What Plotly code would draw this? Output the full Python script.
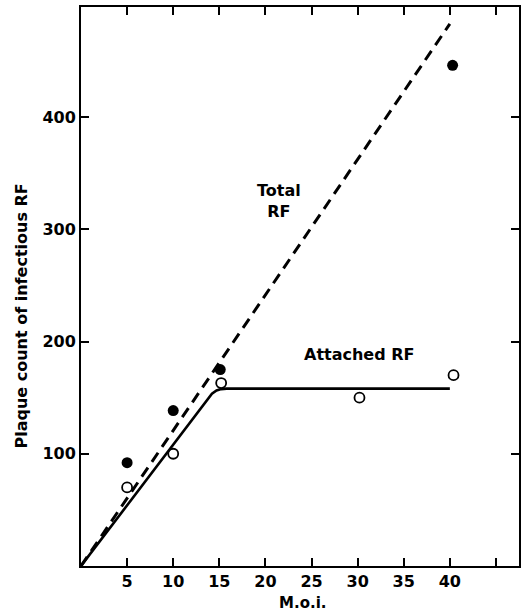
import plotly.graph_objects as go

# Data
moi_total = [5, 10, 15.1, 40.3]
count_total = [92, 138.5, 175, 446]
moi_attached = [5, 10, 15.2, 30.2, 40.4]
count_attached = [70, 100, 163, 150, 170]

# Fitted lines
total_line_x = [0, 40]
total_line_y = [0, 483]
attached_line_x = [0, 13.7, 14.2, 14.7, 15.2, 15.8, 40]
attached_line_y = [0, 149, 153.5, 156.3, 157.6, 158, 158]

xtick_vals = [5, 10, 15, 20, 25, 30, 35, 40, 45]
xtick_text = ["5", "10", "15", "20", "25", "30", "35", "40", ""]
ytick_vals = [100, 200, 300, 400]
ytick_text = ["100", "200", "300", "400"]

FONT = "DejaVu Sans"

fig = go.Figure()
fig.add_trace(go.Scatter(x=total_line_x, y=total_line_y, mode="lines",
                         line=dict(color="black", width=3, dash="11px,7px"),
                         showlegend=False, hoverinfo="skip"))
fig.add_trace(go.Scatter(x=attached_line_x, y=attached_line_y, mode="lines",
                         line=dict(color="black", width=2.6),
                         showlegend=False, hoverinfo="skip"))
fig.add_trace(go.Scatter(x=moi_total, y=count_total, mode="markers",
                         marker=dict(symbol="circle", size=11, color="black"),
                         showlegend=False))
fig.add_trace(go.Scatter(x=moi_attached, y=count_attached, mode="markers",
                         marker=dict(symbol="circle-open", size=10, color="black",
                                     line=dict(width=1.8)),
                         showlegend=False))

fig.add_annotation(x=21.5, y=325, text="<b>Total<br>RF</b>", showarrow=False,
                   font=dict(family=FONT, size=16, color="black"))
fig.add_annotation(x=30.1, y=188, text="<b>Attached RF</b>", showarrow=False,
                   font=dict(family=FONT, size=16, color="black"))

axis_common = dict(showline=True, linecolor="black", linewidth=2, mirror="ticks",
                   ticks="inside", ticklen=8, tickwidth=2, tickcolor="black",
                   showgrid=False, zeroline=False,
                   tickfont=dict(family=FONT, size=16, color="black"))

fig.update_layout(
    width=525, height=614,
    margin=dict(l=81, r=4, t=7, b=48),
    plot_bgcolor="white", paper_bgcolor="white",
    xaxis=dict(range=[0, 47.5], tickvals=xtick_vals,
               ticktext=["<b>%s</b>" % t if t else "" for t in xtick_text], **axis_common),
    yaxis=dict(range=[0, 498], tickvals=ytick_vals,
               ticktext=["<b>%s</b>" % t for t in ytick_text], **axis_common),
)
fig.add_annotation(xref="paper", yref="paper", x=-0.136, y=0.447, textangle=-90,
                   xanchor="center", yanchor="middle",
                   text="<b>Plaque count of infectious RF</b>", showarrow=False,
                   font=dict(family=FONT, size=16, color="black"))
fig.add_annotation(xref="paper", yref="paper", x=0.505, y=-0.067,
                   xanchor="center", yanchor="middle",
                   text="<b>M.o.i.</b>", showarrow=False,
                   font=dict(family=FONT, size=15, color="black"))

fig.write_html("out.html")
